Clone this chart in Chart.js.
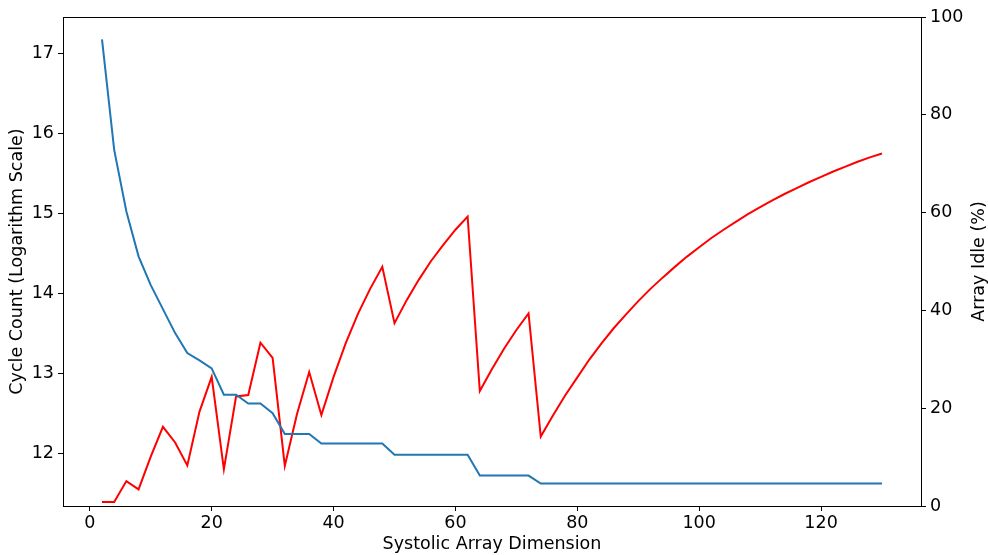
<!DOCTYPE html>
<html>
<head>
<meta charset="utf-8">
<script src="https://cdn.jsdelivr.net/npm/chart.js@4.4.1/dist/chart.umd.min.js"></script>
<style>
  html, body { margin: 0; padding: 0; background: #fff; }
  #wrap { width: 988px; height: 555px; }
</style>
</head>
<body>
<div id="wrap"><canvas id="grafico" width="988" height="555"></canvas></div>
<script>
// array dimension 2..130
const dims = [2,4,6,8,10,12,14,16,18,20,22,24,26,28,30,32,34,36,38,40,
  42,44,46,48,50,52,54,56,58,60,62,64,66,68,70,72,74,76,78,80,
  82,84,86,88,90,92,94,96,98,100,102,104,106,108,110,112,114,116,118,120,
  122,124,126,128,130];

// cycle count (log)
const cycles = [17.17,15.79,15.02,14.46,14.10,13.80,13.50,13.25,13.16,13.06,
  12.73,12.73,12.62,12.62,12.50,12.24,12.24,12.24,12.12,12.12,
  12.12,12.12,12.12,12.12,11.98,11.98,11.98,11.98,11.98,11.98,
  11.98,11.72,11.72,11.72,11.72,11.72,11.62,11.62,11.62,11.62,
  11.62,11.62,11.62,11.62,11.62,11.62,11.62,11.62,11.62,11.62,
  11.62,11.62,11.62,11.62,11.62,11.62,11.62,11.62,11.62,11.62,
  11.62,11.62,11.62,11.62,11.62];

// array idle %
const idle = [0.8,0.8,5.1,3.4,10.1,16.2,13.0,8.3,19.3,26.4,
  7.5,22.4,22.7,33.4,30.3,8.2,18.8,27.4,18.6,26.4,
  33.3,39.3,44.4,48.9,37.4,42.1,46.3,50.1,53.4,56.5,
  59.2,23.5,28.0,32.2,36.0,39.4,14.2,18.5,22.6,26.3,
  30.0,33.3,36.4,39.2,41.9,44.4,46.7,48.9,51.0,52.9,
  54.8,56.5,58.1,59.7,61.1,62.5,63.8,65.0,66.2,67.3,
  68.4,69.4,70.4,71.3,72.1];

const xTicks = [0,20,40,60,80,100,120];
const cycleTicks = [12,13,14,15,16,17];
const idleTicks = [0,20,40,60,80,100];

const fonte = { family: 'DejaVu Sans', size: 17.5 };

function fixTicks(lista) {
  return scale => { scale.ticks = lista.map(v => ({ value: v })); };
}

// box round the plot + right axis title turned like the left one
const moldura = {
  id: 'moldura',
  afterDraw(chart) {
    const a = chart.chartArea;
    const c = chart.ctx;
    c.save();
    c.strokeStyle = '#000';
    c.lineWidth = 1;
    c.strokeRect(Math.round(a.left) + 0.5, Math.round(a.top) + 0.5,
      Math.round(a.right - a.left), Math.round(a.bottom - a.top));
    c.translate(979, (a.top + a.bottom) / 2);
    c.rotate(-Math.PI / 2);
    c.fillStyle = '#000';
    c.font = fonte.size + 'px "DejaVu Sans"';
    c.textAlign = 'center';
    c.textBaseline = 'middle';
    c.fillText('Array Idle (%)', 0, 0);
    c.restore();
  }
};

const ctx = document.getElementById('grafico').getContext('2d');
new Chart(ctx, {
  type: 'line',
  data: {
    datasets: [{
      label: 'Cycle Count',
      data: dims.map((d, i) => ({ x: d, y: cycles[i] })),
      borderColor: '#1f77b4',
      borderWidth: 2,
      pointRadius: 0,
      yAxisID: 'y'
    }, {
      label: 'Array Idle',
      data: dims.map((d, i) => ({ x: d, y: idle[i] })),
      borderColor: '#ff0000',
      borderWidth: 2,
      pointRadius: 0,
      yAxisID: 'y2'
    }]
  },
  options: {
    responsive: false,
    animation: false,
    layout: { padding: { top: 17, left: 0, right: 0, bottom: 0 } },
    plugins: { legend: { display: false }, tooltip: { enabled: false } },
    scales: {
      x: {
        type: 'linear',
        min: -4.4, max: 136.4,
        afterBuildTicks: fixTicks(xTicks),
        afterFit: s => { s.height = 49; },
        grid: { drawOnChartArea: false, tickLength: 5, color: '#000' },
        border: { color: '#000' },
        ticks: { color: '#000', font: fonte, padding: 2, maxRotation: 0 },
        title: { display: true, text: 'Systolic Array Dimension', color: '#000', font: fonte, padding: 0 }
      },
      y: {
        position: 'left',
        min: 11.34, max: 17.45,
        afterBuildTicks: fixTicks(cycleTicks),
        afterFit: s => { s.width = 63; },
        grid: { drawOnChartArea: false, tickLength: 5, color: '#000' },
        border: { color: '#000' },
        ticks: { color: '#000', font: fonte, padding: 4 },
        title: { display: true, text: 'Cycle Count (Logarithm Scale)', color: '#000', font: fonte, padding: { top: 7 } }
      },
      y2: {
        position: 'right',
        min: 0, max: 100,
        afterBuildTicks: fixTicks(idleTicks),
        afterFit: s => { s.width = 67; },
        grid: { drawOnChartArea: false, tickLength: 5, color: '#000' },
        border: { color: '#000' },
        ticks: { color: '#000', font: fonte, padding: 4 }
      }
    }
  },
  plugins: [moldura]
});
</script>
</body>
</html>
